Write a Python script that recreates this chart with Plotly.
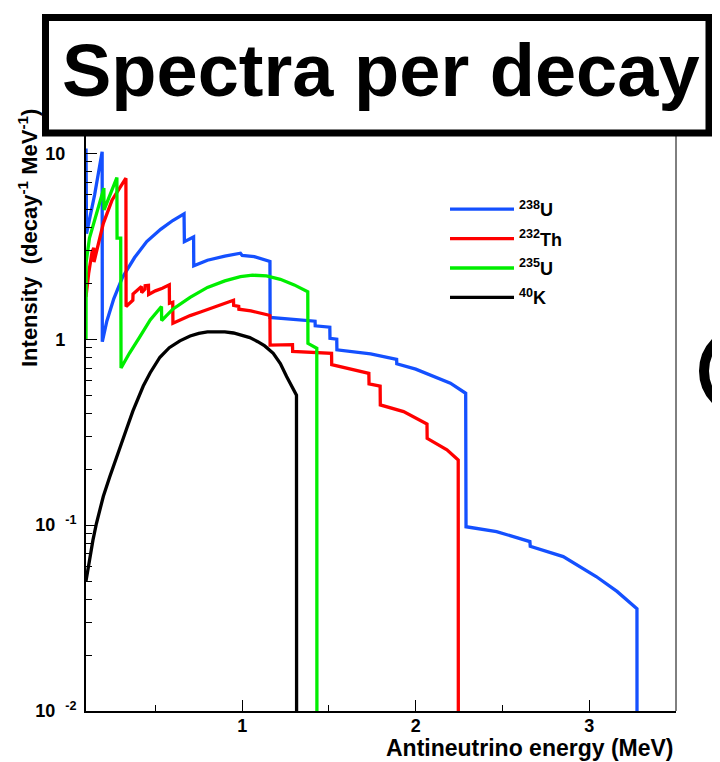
import plotly.graph_objects as go

# ---------------- data ----------------
u238_energy = [0.100, 0.103, 0.150, 0.193, 0.194, 0.22, 0.26, 0.31, 0.38, 0.45, 0.53, 0.60, 0.665,
               0.667, 0.720, 0.721, 0.80, 0.90, 0.99, 1.00, 1.07, 1.14, 1.160, 1.161, 1.28, 1.420,
               1.421, 1.505, 1.506, 1.545, 1.546, 1.74, 1.890, 1.891, 2.00, 2.08, 2.20, 2.288,
               2.290, 2.466, 2.658, 2.660, 2.85, 3.04, 3.16, 3.275, 3.276]
u238_intensity = [10.6, 3.7, 6.0, 10.2, 0.97, 1.25, 1.65, 2.15, 2.75, 3.35, 3.9, 4.35, 4.72,
                  3.35, 3.55, 2.48, 2.66, 2.80, 2.90, 2.82, 2.78, 2.65, 2.62, 1.31, 1.28, 1.25,
                  1.18, 1.16, 1.01, 1.00, 0.876, 0.834, 0.78, 0.737, 0.69, 0.643, 0.58, 0.512,
                  0.098, 0.0923, 0.0815, 0.077, 0.0677, 0.0529, 0.044, 0.0355, 0.001]

th232_energy = [0.100, 0.115, 0.135, 0.145, 0.146, 0.165, 0.20, 0.25, 0.30, 0.330, 0.331, 0.36,
                0.370, 0.371, 0.40, 0.420, 0.421, 0.440, 0.441, 0.460, 0.461, 0.50, 0.54, 0.580,
                0.581, 0.600, 0.601, 0.65, 0.70, 0.76, 0.85, 0.950, 0.951, 0.980, 0.981, 1.05,
                1.15, 1.160, 1.161, 1.290, 1.291, 1.43, 1.515, 1.516, 1.60, 1.730, 1.731, 1.795,
                1.796, 1.93, 2.065, 2.066, 2.18, 2.245, 2.246]
th232_intensity = [1.69, 2.25, 2.95, 3.1, 2.6, 3.1, 4.2, 5.6, 6.7, 7.35, 1.50, 1.60,
                   1.62, 1.75, 1.85, 1.92, 1.78, 1.86, 1.94, 1.95, 1.74, 1.82, 1.88, 1.96,
                   1.56, 1.58, 1.22, 1.28, 1.34, 1.40, 1.50, 1.62, 1.52, 1.50, 1.45, 1.42,
                   1.35, 1.34, 0.93, 0.935, 0.86, 0.85, 0.84, 0.73, 0.70, 0.655, 0.575, 0.56,
                   0.443, 0.408, 0.35, 0.293, 0.254, 0.224, 0.001]

u235_energy = [0.100, 0.101, 0.12, 0.15, 0.203, 0.204, 0.24, 0.278, 0.279, 0.300, 0.302, 0.35,
               0.41, 0.47, 0.535, 0.536, 0.60, 0.70, 0.80, 0.90, 0.99, 1.06, 1.14, 1.22, 1.30,
               1.378, 1.379, 1.430, 1.431]
u235_intensity = [1.0, 2.6, 3.5, 4.4, 6.5, 4.96, 6.1, 7.4, 3.5, 3.5, 0.70, 0.84,
                  1.03, 1.27, 1.50, 1.26, 1.45, 1.68, 1.90, 2.06, 2.17, 2.21, 2.19, 2.10, 1.96,
                  1.80, 0.95, 0.894, 0.001]

k40_energy = [0.10, 0.12, 0.14, 0.16, 0.18, 0.20, 0.237, 0.27, 0.30, 0.334, 0.37, 0.40, 0.43,
              0.47, 0.526, 0.58, 0.641, 0.70, 0.75, 0.80, 0.852, 0.90, 0.95, 1.00, 1.044, 1.09,
              1.13, 1.179, 1.22, 1.256, 1.285, 1.313, 1.314]
k40_intensity = [0.050, 0.066, 0.083, 0.102, 0.122, 0.143, 0.182, 0.225, 0.27, 0.33, 0.41, 0.48,
                 0.56, 0.66, 0.80, 0.90, 0.98, 1.04, 1.075, 1.095, 1.10, 1.095, 1.08, 1.05, 1.02,
                 0.97, 0.92, 0.84, 0.74, 0.63, 0.56, 0.50, 0.001]

series_names = ["<sup>238</sup>U", "<sup>232</sup>Th", "<sup>235</sup>U", "<sup>40</sup>K"]
series_colors = ["#1450ff", "#ff0000", "#00ee00", "#000000"]

x_tick_values = [1, 2, 3]
x_tick_labels = ["1", "2", "3"]
x_minor_values = [0.5, 1.5, 2.5]
NB = "\u00a0"
hide = '<span style="color:rgba(0,0,0,0)"><sup>-1</sup></span>'
y_tick_values = [0.01, 0.1, 1, 10]
y_tick_labels = ["10" + NB + NB + "<sup>-2</sup>", "10" + NB + NB + "<sup>-1</sup>",
                 "1" + hide, "10" + hide]
y_minor_values = [k * 10.0 ** e for e in (-2, -1, 0) for k in range(2, 10)]

title_text = "Spectra per decay"
x_title = "Antineutrino energy (MeV)"
y_title = "Intensity  (decay<sup>-1</sup> MeV<sup>-1</sup>)"

# ---------------- figure ----------------
FONT = "Liberation Sans, Arial, Helvetica, sans-serif"
OFF = 8                      # the page body adds an 8 px margin
W, H = 720 - OFF, 762 - OFF
# plot area in window pixels
L, R, T, B = 86, 676, 131, 711
PW, PH = R - L, B - T


def px(p):
    return (p - L) / PW


def py(q):
    return (B - q) / PH


fig = go.Figure()
energies = [u238_energy, th232_energy, u235_energy, k40_energy]
intens = [u238_intensity, th232_intensity, u235_intensity, k40_intensity]
for name, xs, ys, col in zip(series_names, energies, intens, series_colors):
    fig.add_trace(go.Scatter(x=xs, y=ys, mode="lines", name=name,
                             line=dict(color=col, width=3.3),
                             legendgroup=name))

fig.update_layout(
    width=W, height=H,
    margin=dict(l=L - OFF, r=(720 - R), t=T - OFF, b=(762 - B), pad=0),
    paper_bgcolor="white", plot_bgcolor="white",
    font=dict(family=FONT, color="black", size=18, weight="bold"),
    showlegend=True,
    legend=dict(x=px(445), y=py(191), xanchor="left", yanchor="top",
                bgcolor="rgba(0,0,0,0)", font=dict(size=18, family=FONT, weight="bold"),
                itemwidth=64, tracegroupgap=3),
)

fig.update_xaxes(range=[0.1, 3.5], showgrid=False, zeroline=False,
                 showline=True, linecolor="black", linewidth=2,
                 ticks="inside", ticklen=11, tickwidth=1, tickcolor="black",
                 tickvals=x_tick_values, ticktext=x_tick_labels,
                 ticklabelstandoff=-3,
                 tickfont=dict(size=18, family=FONT, weight="bold"),
                 minor=dict(tickvals=x_minor_values, ticks="inside", ticklen=6,
                            tickwidth=1, tickcolor="black", showgrid=False))
fig.update_yaxes(type="log", range=[-2, 1.12], showgrid=False, zeroline=False,
                 showline=True, linecolor="black", linewidth=2,
                 ticks="inside", ticklen=11, tickwidth=1, tickcolor="black",
                 tickvals=y_tick_values, ticktext=y_tick_labels,
                 ticklabelstandoff=4,
                 tickfont=dict(size=18, family=FONT, weight="bold"),
                 minor=dict(tickvals=y_minor_values, ticks="inside", ticklen=6,
                            tickwidth=1, tickcolor="black", showgrid=False))

# right frame line
fig.add_shape(type="line", xref="paper", yref="paper", x0=1, x1=1, y0=0, y1=1.03,
              line=dict(color="black", width=1))

# title box
fig.add_shape(type="rect", xref="paper", yref="paper",
              x0=px(45.5), x1=px(709), y0=py(133), y1=py(17.5),
              line=dict(color="black", width=7), fillcolor="white", layer="above")
fig.add_annotation(text=title_text, xref="paper", yref="paper",
                   x=px(381), y=py(70), xanchor="center", yanchor="middle",
                   showarrow=False, font=dict(size=74, family=FONT, weight="bold", color="black"))

# partial circle at right edge
fig.add_shape(type="circle", xref="paper", yref="paper",
              x0=px(704), x1=px(786), y0=py(412), y1=py(330),
              line=dict(color="black", width=10))

# axis titles
fig.add_annotation(text=x_title, xref="paper", yref="paper", x=1.0, y=py(748),
                   xanchor="right", yanchor="middle", showarrow=False,
                   font=dict(size=23, family=FONT, weight="bold"))
fig.add_annotation(text=y_title, xref="paper", yref="paper", x=px(28), y=py(238),
                   xanchor="center", yanchor="middle", textangle=-90, showarrow=False,
                   font=dict(size=22, family=FONT, weight="bold"))

fig.write_html("out.html")
